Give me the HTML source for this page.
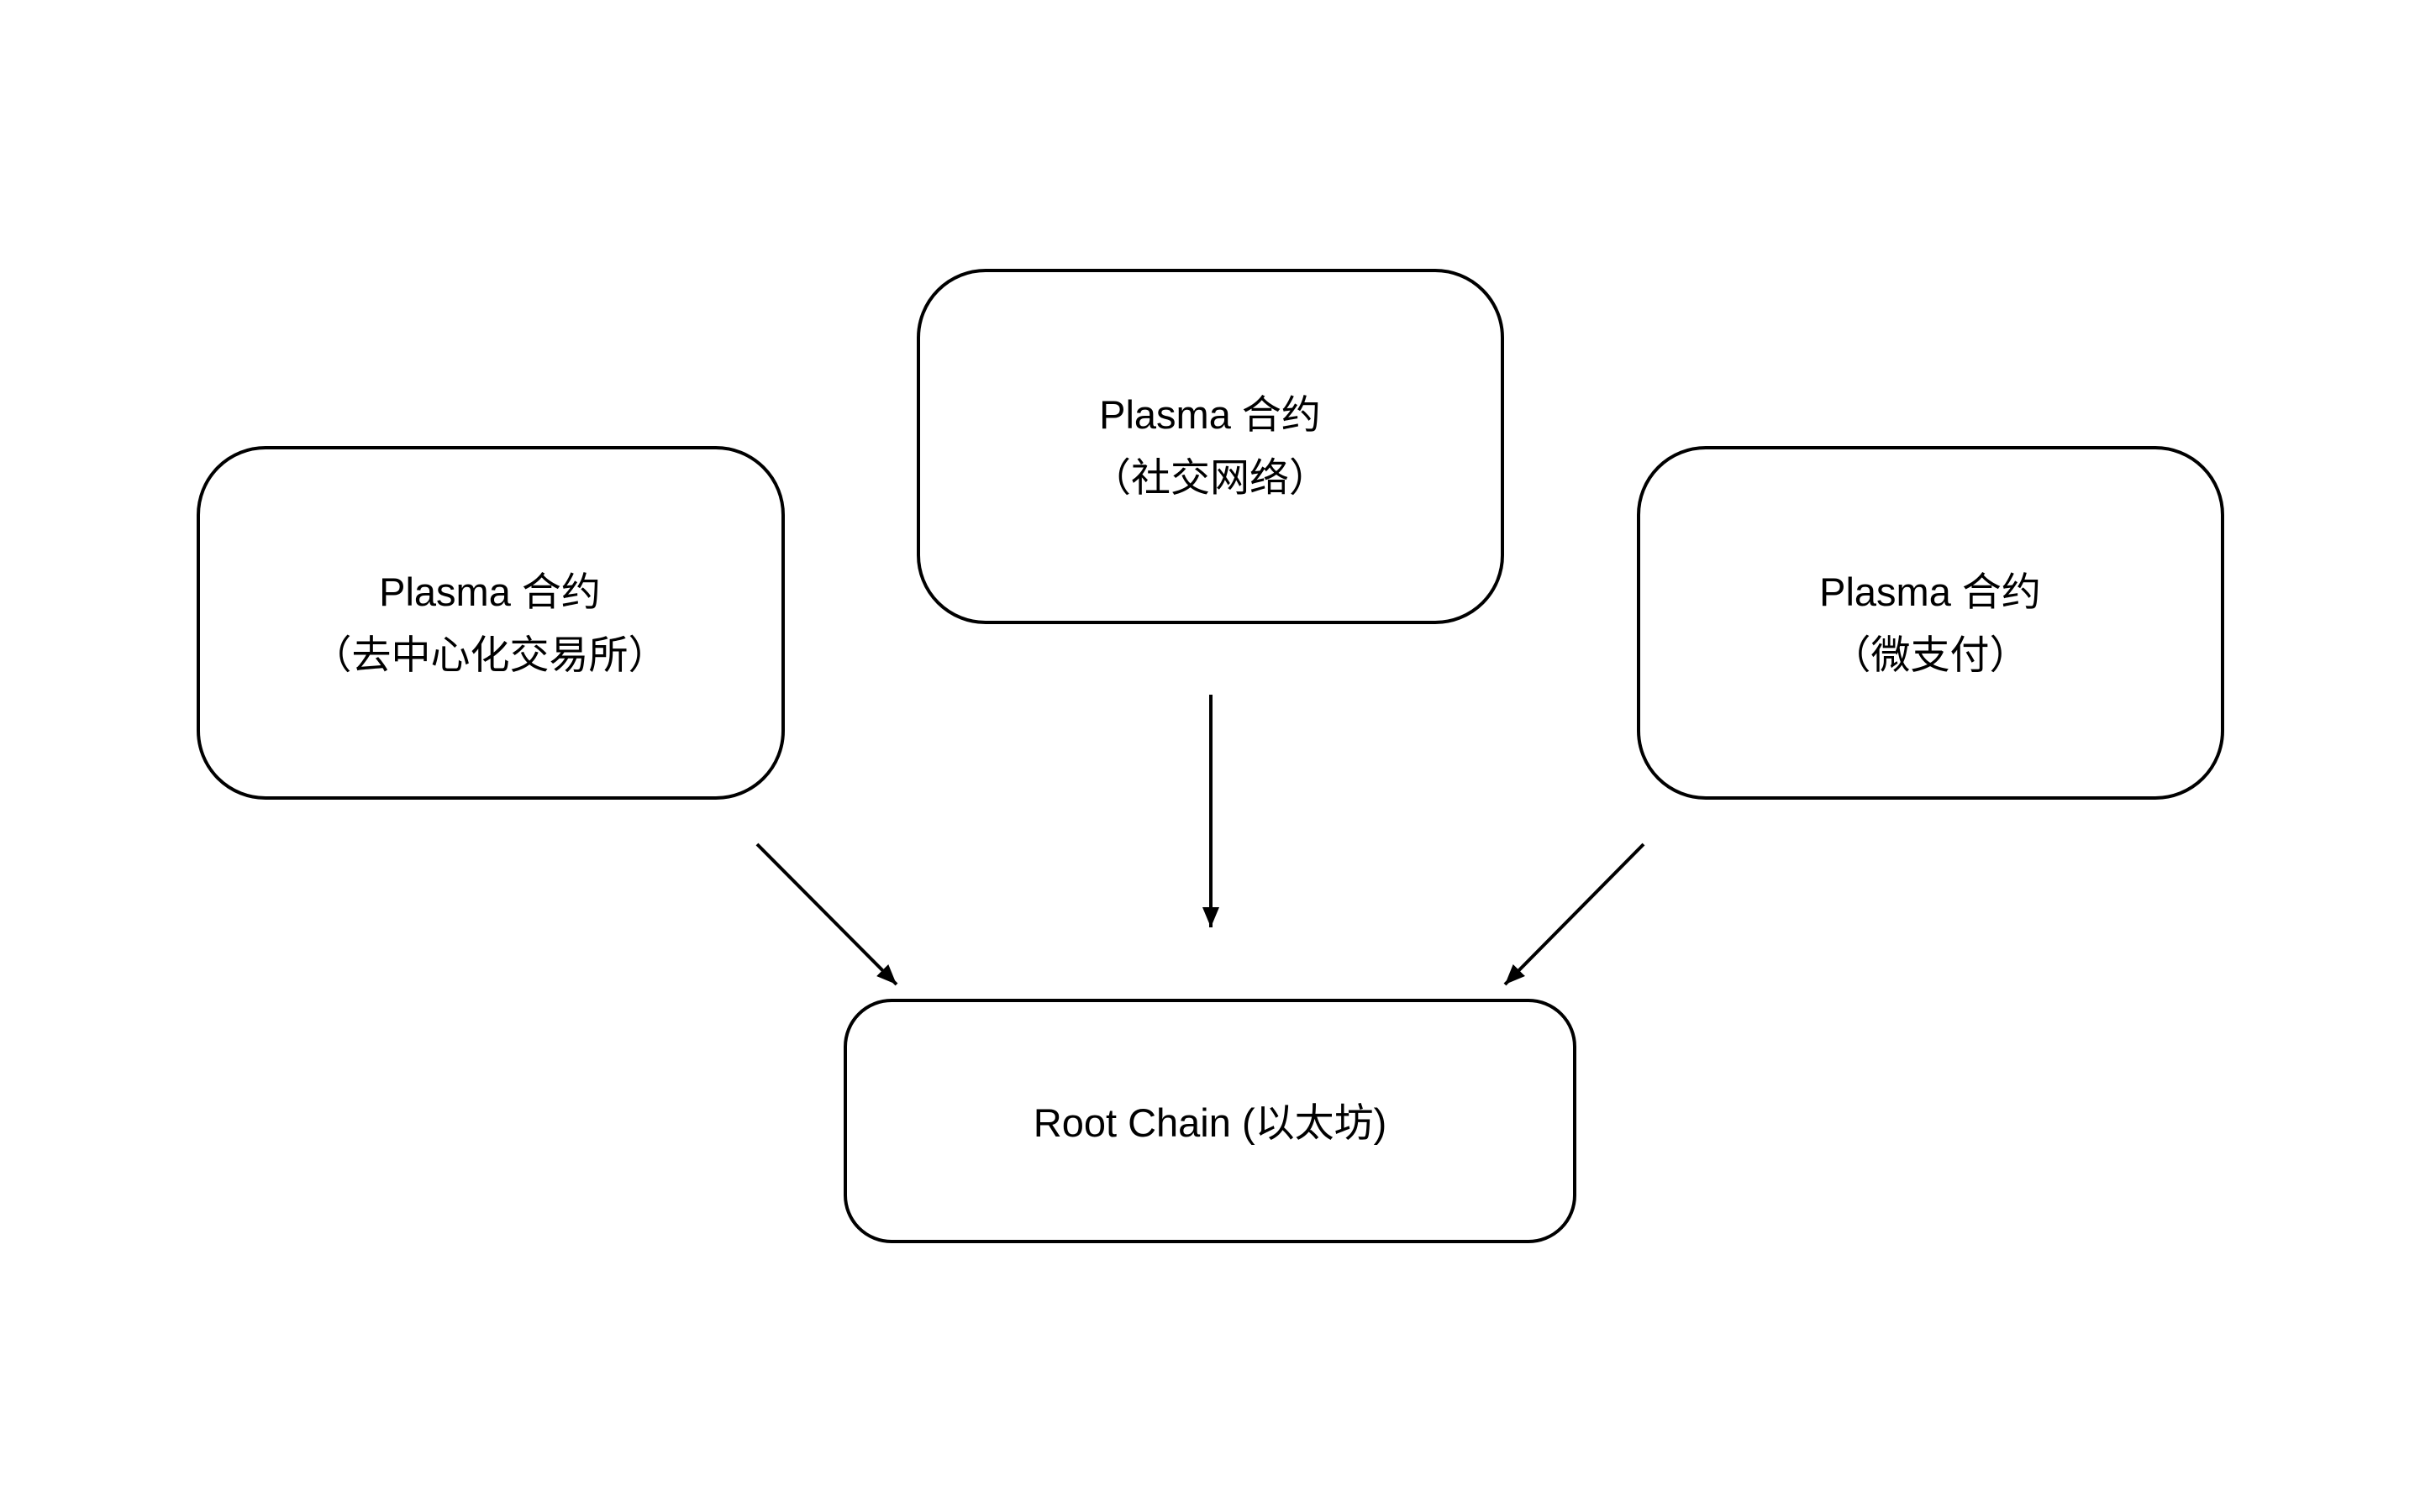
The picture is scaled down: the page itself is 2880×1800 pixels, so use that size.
<!DOCTYPE html>
<html><head><meta charset="utf-8"><style>
html,body{margin:0;padding:0;background:#fff;}
svg{display:block;}
text{font-family:"Liberation Sans","Noto Sans CJK SC",sans-serif;font-size:47px;fill:#000;text-anchor:middle;}
</style></head><body>
<svg width="2880" height="1800" viewBox="0 0 2880 1800" xmlns="http://www.w3.org/2000/svg">
<defs>
<marker id="ah" markerWidth="24" markerHeight="20" refX="24" refY="10" orient="auto" markerUnits="userSpaceOnUse">
<path d="M0,0 L24,10 L0,20 Z" fill="#000"/>
</marker>
</defs>
<g fill="#fff" stroke="#000" stroke-width="4">
<rect x="236" y="533" width="696" height="417" rx="80" ry="80"/>
<rect x="1093" y="322" width="695" height="419" rx="80" ry="80"/>
<rect x="1950" y="533" width="695" height="417" rx="80" ry="80"/>
<rect x="1006" y="1191" width="868" height="287" rx="55" ry="55"/>
</g>
<g stroke="#000" stroke-width="4" fill="none">
<line x1="1441" y1="827" x2="1441" y2="1104" marker-end="url(#ah)"/>
<line x1="901" y1="1005" x2="1067" y2="1172" marker-end="url(#ah)"/>
<line x1="1956" y1="1005" x2="1791" y2="1172" marker-end="url(#ah)"/>
</g>
<text x="583" y="721">Plasma 合约</text>
<text x="583" y="796">（去中心化交易所）</text>
<text x="1440" y="510">Plasma 合约</text>
<text x="1440" y="585">（社交网络）</text>
<text x="2297" y="721">Plasma 合约</text>
<text x="2297" y="796">（微支付）</text>
<text x="1440" y="1353">Root Chain (以太坊)</text>
</svg>
</body></html>
